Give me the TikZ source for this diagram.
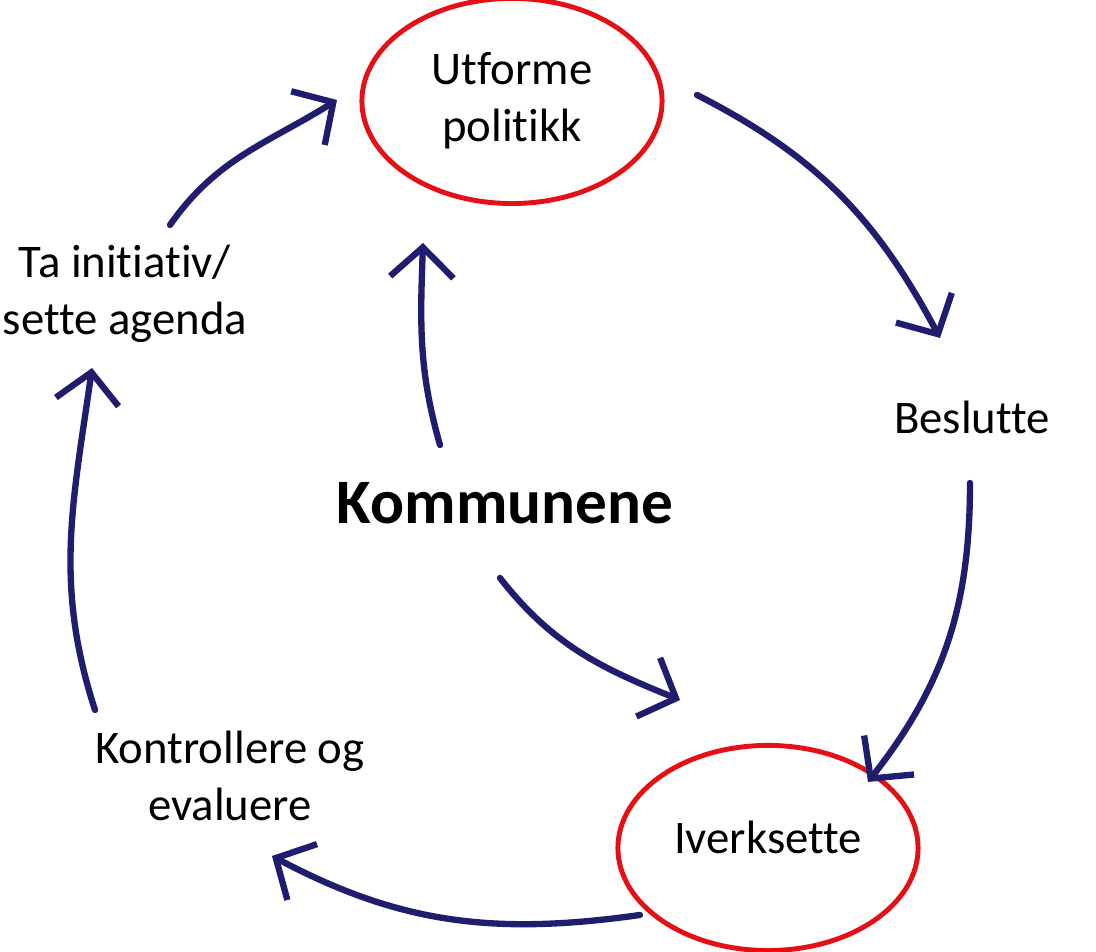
\documentclass[tikz,border=0pt]{standalone}
\usepackage{fontspec}
\setmainfont{Carlito}[Ligatures=CommonOff]
\usetikzlibrary{arrows.meta,shapes.geometric}
\definecolor{pilblaa}{RGB}{32,28,110}
\definecolor{ringrod}{RGB}{228,16,22}
\newcommand\tekst{\fontsize{13.3}{16.2}\selectfont}

\begin{document}
\begin{tikzpicture}[x=0.01cm, y=0.01cm,
    pil/.style={draw=pilblaa, line width=1.8pt, line cap=round, line join=round,
        -{Straight Barb[length=8.5pt, width=18pt]}},
    ring/.style={draw=ringrod, line width=1.4pt, ellipse, minimum width=3cm,
        minimum height=2.05cm, inner sep=0pt, align=center, font=\tekst},
    etikett/.style={align=center, font=\tekst, inner sep=0pt}]
    \useasboundingbox (0,0) rectangle (1096,952);

    % Stegene i syklusen
    \node[ring] (politikk) at (512,851) {Utforme\\politikk};
    \node[ring] (iverksette) at (768,104) {};
    \node[etikett] (iverksettetekst) at (768,115) {Iverksette};
    \node[etikett] (agenda) at (125,658) {Ta initiativ/\\sette agenda};
    \node[etikett] (beslutte) at (972,535) {Beslutte};
    \node[etikett] (kontroll) at (230,176) {Kontrollere og\\evaluere};
    \node[font=\fontsize{18}{22}\selectfont\bfseries, inner sep=0pt] (kommunene) at (505,449) {Kommunene};

    % Endepunkter for pilene
    \coordinate (a1s) at (170,727);  \coordinate (a1e) at (337,852);
    \coordinate (a2s) at (697,857);  \coordinate (a2e) at (940,614);
    \coordinate (a3s) at (970,469);  \coordinate (a3e) at (868,170);
    \coordinate (a4s) at (640,37);   \coordinate (a4e) at (272,96);
    \coordinate (a5s) at (95,242);   \coordinate (a5e) at (92,584);
    \coordinate (k1s) at (440,507);  \coordinate (k1e) at (423,709);
    \coordinate (k2s) at (500,374);  \coordinate (k2e) at (680,252);

    % Ytre sirkel
    \draw[pil] (a1s) to[out=55, in=212] (a1e);
    \draw[pil] (a2s) to[out=-27, in=118] (a2e);
    \draw[pil] (a3s) to[out=-90, in=52] (a3e);
    \draw[pil] (a4s) to[out=188, in=-28] (a4e);
    \draw[pil] (a5s) to[out=108, in=262] (a5e);

    % Fra kommunene
    \draw[pil] (k1s) to[out=106, in=268] (k1e);
    \draw[pil] (k2s) to[out=-52, in=158] (k2e);
\end{tikzpicture}
\end{document}
